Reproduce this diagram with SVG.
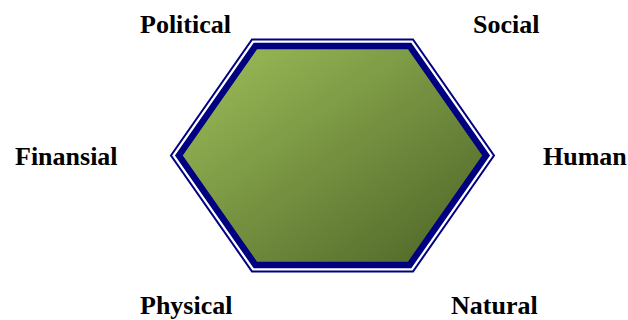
<svg xmlns="http://www.w3.org/2000/svg" width="628" height="320" viewBox="0 0 628 320">
  <defs>
    <linearGradient id="green" x1="0" y1="0" x2="1" y2="1">
      <stop offset="0" stop-color="#9fc05a"/>
      <stop offset="1" stop-color="#4b6226"/>
    </linearGradient>
  </defs>
  <style>
    .lbl { font-family: "Liberation Serif", "Times New Roman", serif; font-weight: bold; font-size: 26px; fill: #000000; }
  </style>
  <rect width="628" height="320" fill="#ffffff"/>
  <g id="hexagon">
    <polygon points="252,39.5 413,39.5 494,155.5 413,271.5 252,271.5 171,155.5" fill="#ffffff" stroke="#000080" stroke-width="2"/>
    <polygon points="255.4,46 409.6,46 486.1,155.5 409.6,265 255.4,265 178.9,155.5" fill="url(#green)" stroke="#000080" stroke-width="6.5"/>
  </g>
  <g id="connectors"></g>
  <g id="political"><text class="lbl" x="140" y="32.5">Political</text></g>
  <g id="social"><text class="lbl" x="473" y="32.5">Social</text></g>
  <g id="finansial"><text class="lbl" x="15" y="164.5">Finansial</text></g>
  <g id="human"><text class="lbl" x="543" y="164.5">Human</text></g>
  <g id="physical"><text class="lbl" x="140" y="313.5">Physical</text></g>
  <g id="natural"><text class="lbl" x="451" y="313.5">Natural</text></g>
</svg>
